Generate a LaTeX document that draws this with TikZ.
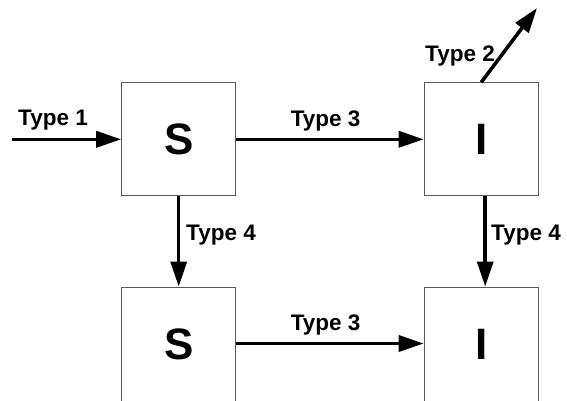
\documentclass[tikz,border=0pt]{standalone}
\usepackage{fontspec}
\setmainfont{Liberation Sans}
\usepackage{tikz}
\usetikzlibrary{arrows.meta,positioning}
\tikzset{compart/.style={draw=black!65, line width=1pt, minimum width=114pt, minimum height=113pt, inner sep=0pt, font=\fontsize{44}{44}\selectfont\bfseries},
         cutoff/.style={minimum height=120pt, text height=31.5pt, text depth=7pt},
         flow/.style={line width=3.5pt, -{Triangle[length=25pt,width=16pt]}},
         lbl/.style={anchor=base west, inner sep=0pt, font=\fontsize{22.5}{24}\selectfont\bfseries}}

\begin{document}
\begin{tikzpicture}[x=1pt,y=-1pt]
\useasboundingbox (0,0) rectangle (567,400);

% compartments (lower row runs off the bottom edge)
\node[compart] (S1) at (178.7,139.3) {S};
\node[compart] (I1) at (481.2,139.3) {I};
\node[compart, cutoff] (S2) at (178.7,347) {S};
\node[compart, cutoff] (I2) at (481.2,347) {I};

\coordinate (in) at (12,139.3);
\coordinate (out) at (537,8);

% transitions
\draw[flow] (in) -- (S1.west);
\draw[flow] (I1.north) -- (out);
\draw[flow] (S1.east) -- (I1.west);
\draw[flow] ([yshift=3.5pt]S2.east) -- ([yshift=3.5pt]I2.west);
\draw[flow] (S1.south) -- (S2.north);
\draw[flow] ([xshift=4pt]I1.south) -- ([xshift=4pt]I2.north);

\node[lbl] (t1) at (18,125) {Type 1};
\node[lbl] (t2) at (425,61.7) {Type 2};
\node[lbl] (t3a) at (290.7,126.7) {Type 3};
\node[lbl] (t3b) at (290.7,330.7) {Type 3};
\node[lbl] (t4a) at (186,240) {Type 4};
\node[lbl] (t4b) at (491,240) {Type 4};

\end{tikzpicture}
\end{document}
